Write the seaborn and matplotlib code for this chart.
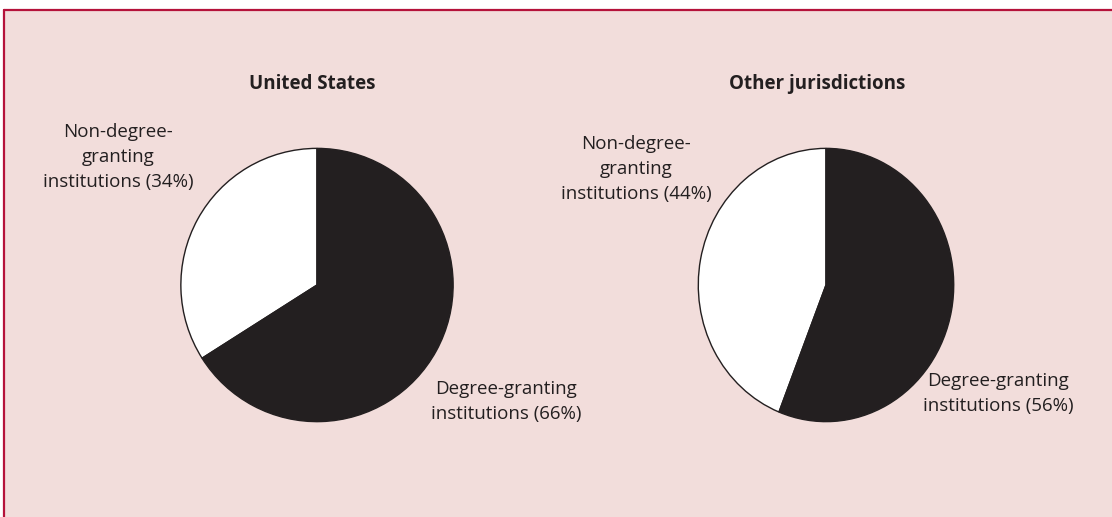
import matplotlib
matplotlib.use("Agg")
import matplotlib.pyplot as plt
import seaborn as sns
from matplotlib.patches import Rectangle
from matplotlib.lines import Line2D

# shares of institutions, in percent
panels = ["United States", "Other jurisdictions"]
non_degree = [34, 44]
degree = [66, 56]
slice_colors = ["#ffffff", "#231f20"]

sns.set_theme(style="white")
plt.rcParams["font.family"] = ["Open Sans", "DejaVu Sans"]

W, H = 1112, 517
fig = plt.figure(figsize=(W / 100, H / 100), dpi=100)
fig.patch.set_facecolor("white")

# pink panel with red rule on top and left
fig.patches.append(Rectangle((4 / W, 0), 1 - 4 / W, 1 - 10 / H, transform=fig.transFigure,
                             facecolor="#f2dddb", edgecolor="none", zorder=-5))
fig.lines.append(Line2D([4 / W, 1], [1 - 10 / H, 1 - 10 / H], transform=fig.transFigure,
                        color="#b5123a", lw=1.6, zorder=-4))
fig.lines.append(Line2D([4 / W, 4 / W], [0, 1 - 10 / H], transform=fig.transFigure,
                        color="#b5123a", lw=1.6, zorder=-4))

# pixel geometry of each pie: centre x, centre y, x-radius, y-radius
geom = [(317, 285, 137.5, 138), (826, 285, 129, 138)]
title_x = [312, 817]
nd_label = [(118, 157), (636, 169)]
d_label = [(506, 402), (998, 394)]

for i, name in enumerate(panels):
    cx, cy, rx, ry = geom[i]
    ax = fig.add_axes([(cx - rx) / W, (H - cy - ry) / H, 2 * rx / W, 2 * ry / H])
    ax.pie([non_degree[i], degree[i]], colors=slice_colors, startangle=90,
           counterclock=True, radius=1,
           wedgeprops=dict(edgecolor="#231f20", linewidth=1.0))
    ax.set_aspect("auto")
    ax.set_xlim(-1.01, 1.01)
    ax.set_ylim(-1.01, 1.01)
    ax.set_facecolor("none")
    ax.set_zorder(1)

    fig.text(title_x[i] / W, 1 - 84 / H, name, ha="center", va="center",
             fontsize=13.5, fontweight="bold", color="#231f20")
    x, y = nd_label[i]
    fig.text(x / W, 1 - y / H, f"Non-degree-\ngranting\ninstitutions ({non_degree[i]}%)",
             ha="center", va="center", fontsize=13.5, color="#231f20", linespacing=1.5)
    x, y = d_label[i]
    fig.text(x / W, 1 - y / H, f"Degree-granting\ninstitutions ({degree[i]}%)",
             ha="center", va="center", fontsize=13.5, color="#231f20", linespacing=1.5)

fig.savefig("out.png", dpi=100)
